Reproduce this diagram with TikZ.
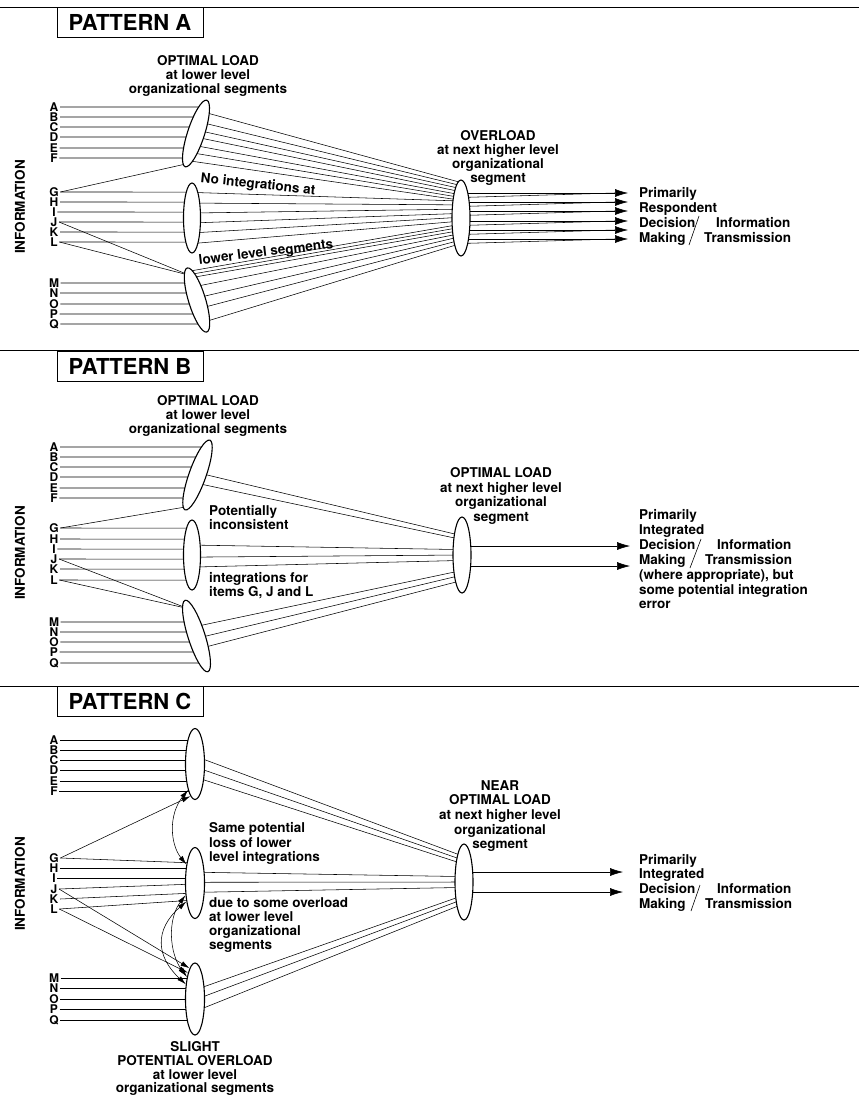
\documentclass[tikz,border=0pt]{standalone}
\usepackage{fontspec}
\setmainfont{TeX Gyre Heros}
\usetikzlibrary{arrows.meta,backgrounds,calc,shapes.geometric}
\begin{document}
\begin{tikzpicture}[x=1pt,y=-1pt,
  lens/.style={draw, ellipse, fill=white, line width=1.1pt, inner sep=0pt, minimum width=17pt, minimum height=70pt},
  bigl/.style={lens, minimum width=18pt, minimum height=76pt},
  letter/.style={font=\fontsize{12}{12}\selectfont\bfseries, inner sep=0pt, text height=8.6pt, text depth=0pt, anchor=center},
  txt/.style={font=\fontsize{13.5}{13.5}\selectfont\bfseries, inner sep=0pt, anchor=base},
  txtl/.style={txt, anchor=base west},
  ttl/.style={draw, line width=0.9pt, font=\fontsize{22}{22}\selectfont\bfseries, minimum width=146pt, minimum height=30pt, inner sep=0pt},
  wire/.style={line width=0.55pt},
  arr/.style={wire, -{Latex[length=13pt,width=8pt]}},
  sarr/.style={wire, -{Latex[length=9pt,width=5pt]}},
  dbl/.style={wire, {Latex[length=9pt,width=5pt]}-{Latex[length=9pt,width=5pt]}},
  slash/.style={line width=0.6pt},
  sep/.style={line width=0.8pt},
]
\useasboundingbox (0,0) rectangle (859,1100);

% ================= PATTERN A =================
\draw[sep] (0,7) coordinate (sA1) -- (859,7) coordinate (sA2);
\node[ttl] (tA) at (130,22) {PATTERN A};
\node[txt, rotate=90, anchor=center] (infA) at (20,207) {INFORMATION};
\foreach \l/\y in {A/107,B/117,C/127,D/137,E/148,F/158,G/192,H/202,I/212,J/222,K/232,L/242,M/283,N/293,O/304,P/314,Q/324}
  \node[letter] (A\l) at (54,\y) {\l};
\node[lens, rotate=-18] (A1) at (196,133.5) {};
\node[lens] (A2) at (192,218) {};
\node[lens, rotate=17, minimum height=67pt] (A3) at (197,300) {};
\node[bigl] (AX) at (461,218) {};
\node[txt] (Aol1) at (208,65.5) {OPTIMAL LOAD};
\node[txt] (Aol2) at (208,79.5) {at lower level};
\node[txt] (Aol3) at (208,93.5) {organizational segments};
\node[txt] (Aov1) at (498,140.5) {OVERLOAD};
\node[txt] (Aov2) at (498,154.5) {at next higher level};
\node[txt] (Aov3) at (498,168.5) {organizational};
\node[txt] (Aov4) at (498,182.5) {segment};
\node[txt, rotate=-6, anchor=center] (Ani) at (258,185) {No integrations at};
\node[txt, rotate=7, anchor=center] (Alo) at (266,253) {lower level segments};
\node[txtl] (Ar1) at (639,197.5) {Primarily};
\node[txtl] (Ar2) at (639,212.5) {Respondent};
\node[txtl] (Ar3) at (639,227.5) {Decision};
\node[txtl] (Ar4) at (639,242.5) {Making};
\node[txtl] (Ar5) at (716,227.5) {Information};
\node[txtl] (Ar6) at (704,242.5) {Transmission};
\draw[slash] (689,245) coordinate (Asl1) -- (699,216) coordinate (Asl2);
\foreach \i/\y in {1/193,2/202,3/211,4/221,5/230,6/239}
  \coordinate (At\i) at (628,\y);
\begin{scope}[on background layer]
  \foreach \l in {A,B,C,D,E,F}
    \draw[wire] ($(A\l.east)+(1.5,0)$) -- (intersection cs: first line={(A\l.east)--(A\l.east -| A1.center)}, second line={(A1.north)--(A1.south)});
  \foreach \l in {G,H,I,J,K,L}
    \draw[wire] ($(A\l.east)+(1.5,0)$) -- (intersection cs: first line={(A\l.east)--(A\l.east -| A2.center)}, second line={(A2.north)--(A2.south)});
  \foreach \l in {M,N,O,P,Q}
    \draw[wire] ($(A\l.east)+(1.5,0)$) -- (intersection cs: first line={(A\l.east)--(A\l.east -| A3.center)}, second line={(A3.north)--(A3.south)});
  \draw[wire] ($(AG.east)+(1.5,0)$) -- ($(A1.south)!0.05!(A1.north)$);
  \draw[wire] ($(AJ.east)+(1.5,0)$) -- ($(A3.north)!0.12!(A3.south)$);
  \draw[wire] ($(AL.east)+(1.5,0)$) -- ($(A3.north)!0.12!(A3.south)$);
  \foreach \f/\g in {0.18/0.04,0.33/0.08,0.45/0.12,0.55/0.16,0.67/0.2,0.78/0.235,0.9/0.27}
    \draw[wire] ($(A1.north)!\f!(A1.south)$) -- ($(AX.north)!\g!(AX.south)$);
  \foreach \f/\g in {0.14/0.28,0.29/0.33,0.43/0.385,0.57/0.44,0.71/0.49,0.86/0.54}
    \draw[wire] ($(A2.north)!\f!(A2.south)$) -- ($(AX.north)!\g!(AX.south)$);
  \foreach \f/\g in {0.06/0.58,0.11/0.62,0.16/0.66,0.30/0.70,0.47/0.74,0.63/0.785,0.84/0.83}
    \draw[wire] ($(A3.north)!\f!(A3.south)$) -- ($(AX.north)!\g!(AX.south)$);
  \foreach \i in {1,...,6} {
    \draw[arr] (AX.center |- At\i) -- (At\i);
    \draw[wire] ($(AX.center |- At\i)+(0,4.5)$) -- ($(At\i)+(-13,0)$);
  }
\end{scope}

% ================= PATTERN B =================
\draw[sep] (0,350) coordinate (sB1) -- (859,350) coordinate (sB2);
\node[ttl] (tB) at (130,366) {PATTERN B};
\node[txt, rotate=90, anchor=center] (infB) at (20,553) {INFORMATION};
\foreach \l/\y in {A/447,B/457,C/467,D/477,E/488,F/498,G/528,H/539,I/549,J/559,K/569,L/580,M/622,N/632,O/642,P/652,Q/663}
  \node[letter] (B\l) at (54,\y) {\l};
\node[lens, rotate=-19.5, minimum height=74pt] (B1) at (197.5,475) {};
\node[lens] (B2) at (192,555) {};
\node[lens, rotate=17.7, minimum height=75pt] (B3) at (196.5,636) {};
\node[bigl] (BX) at (462,555) {};
\node[txt] (Bol1) at (208,405.5) {OPTIMAL LOAD};
\node[txt] (Bol2) at (208,419.5) {at lower level};
\node[txt] (Bol3) at (208,433.5) {organizational segments};
\node[txt] (Bov1) at (501,477.5) {OPTIMAL LOAD};
\node[txt] (Bov2) at (501,492.5) {at next higher level};
\node[txt] (Bov3) at (501,506.5) {organizational};
\node[txt] (Bov4) at (501,521.5) {segment};
\node[txtl] (Bpi1) at (209,515.5) {Potentially};
\node[txtl] (Bpi2) at (209,529.5) {inconsistent};
\node[txtl] (Bpi3) at (209,582.5) {integrations for};
\node[txtl] (Bpi4) at (209,596.5) {items G, J and L};
\node[txtl] (Br1) at (639,519.5) {Primarily};
\node[txtl] (Br2) at (639,534.5) {Integrated};
\node[txtl] (Br3) at (639,549.5) {Decision};
\node[txtl] (Br4) at (639,564.5) {Making};
\node[txtl] (Br5) at (717,549.5) {Information};
\node[txtl] (Br6) at (705,564.5) {Transmission};
\draw[slash] (690,568) coordinate (Bsl1) -- (701,539) coordinate (Bsl2);
\node[txtl] (Br7) at (639,579.5) {(where appropriate), but};
\node[txtl] (Br8) at (639,594.5) {some potential integration};
\node[txtl] (Br9) at (639,608.5) {error};
\coordinate (Bt1) at (630,546);
\coordinate (Bt2) at (630,566);
\begin{scope}[on background layer]
  \foreach \l in {A,B,C,D,E,F}
    \draw[wire] ($(B\l.east)+(1.5,0)$) -- (intersection cs: first line={(B\l.east)--(B\l.east -| B1.center)}, second line={(B1.north)--(B1.south)});
  \foreach \l in {G,H,I,J,K,L}
    \draw[wire] ($(B\l.east)+(1.5,0)$) -- (intersection cs: first line={(B\l.east)--(B\l.east -| B2.center)}, second line={(B2.north)--(B2.south)});
  \foreach \l in {M,N,O,P,Q}
    \draw[wire] ($(B\l.east)+(1.5,0)$) -- (intersection cs: first line={(B\l.east)--(B\l.east -| B3.center)}, second line={(B3.north)--(B3.south)});
  \draw[wire] ($(BG.east)+(1.5,0)$) -- ($(B1.south)!0.05!(B1.north)$);
  \draw[wire] ($(BJ.east)+(1.5,0)$) -- ($(B3.north)!0.12!(B3.south)$);
  \draw[wire] ($(BL.east)+(1.5,0)$) -- ($(B3.north)!0.12!(B3.south)$);
  \foreach \f/\g in {0.47/0.25,0.61/0.30}
    \draw[wire] ($(B1.north)!\f!(B1.south)$) -- ($(BX.north)!\g!(BX.south)$);
  \foreach \f/\g in {0.36/0.43,0.53/0.5,0.67/0.57}
    \draw[wire] ($(B2.north)!\f!(B2.south)$) -- ($(BX.north)!\g!(BX.south)$);
  \foreach \f/\g in {0.375/0.70,0.53/0.76,0.67/0.83}
    \draw[wire] ($(B3.north)!\f!(B3.south)$) -- ($(BX.north)!\g!(BX.south)$);
  \draw[arr] (BX.center |- Bt1) -- (Bt1);
  \draw[arr] (BX.center |- Bt2) -- (Bt2);
\end{scope}

% ================= PATTERN C =================
\draw[sep] (0,686) coordinate (sC1) -- (859,686) coordinate (sC2);
\node[ttl] (tC) at (130,701) {PATTERN C};
\node[txt, rotate=90, anchor=center] (infC) at (20,884) {INFORMATION};
\foreach \l/\y in {A/740,B/750,C/760,D/770,E/781,F/791,G/858,H/868,I/878,J/889,K/899,L/909,M/978,N/988,O/999,P/1009,Q/1020}
  \node[letter] (C\l) at (54,\y) {\l};
\node[lens, minimum width=19pt, minimum height=71pt] (C1) at (195,764) {};
\node[lens, minimum width=19pt, minimum height=71pt] (C2) at (195,883) {};
\node[lens, minimum width=19pt, minimum height=72pt] (C3) at (195,999) {};
\node[bigl] (CX) at (464,882) {};
\node[txt] (Cov0) at (500,790.5) {NEAR};
\node[txt] (Cov1) at (500,804.5) {OPTIMAL LOAD};
\node[txt] (Cov2) at (500,819.5) {at next higher level};
\node[txt] (Cov3) at (500,834.5) {organizational};
\node[txt] (Cov4) at (500,848.5) {segment};
\node[txtl] (Csp1) at (209,832.5) {Same potential};
\node[txtl] (Csp2) at (209,847.5) {loss of lower};
\node[txtl] (Csp3) at (209,861.5) {level integrations};
\node[txtl] (Cdu1) at (209,907.5) {due to some overload};
\node[txtl] (Cdu2) at (209,921.5) {at lower level};
\node[txtl] (Cdu3) at (209,935.5) {organizational};
\node[txtl] (Cdu4) at (209,949.5) {segments};
\node[txt] (Csl1) at (195,1051.5) {SLIGHT};
\node[txt] (Csl2) at (195,1065.5) {POTENTIAL OVERLOAD};
\node[txt] (Csl3) at (195,1079.5) {at lower level};
\node[txt] (Csl4) at (195,1092.5) {organizational segments};
\node[txtl] (Cr1) at (639,864.5) {Primarily};
\node[txtl] (Cr2) at (639,878.5) {Integrated};
\node[txtl] (Cr3) at (639,893.5) {Decision};
\node[txtl] (Cr4) at (639,908.5) {Making};
\node[txtl] (Cr5) at (717,893.5) {Information};
\node[txtl] (Cr6) at (705,908.5) {Transmission};
\draw[slash] (691,911) coordinate (Csl1a) -- (700,885) coordinate (Csl2a);
\coordinate (Ct1) at (623,872);
\coordinate (Ct2) at (623,892);
\begin{scope}[on background layer]
  \foreach \l in {A,B,C,D,E,F}
    \draw[wire] ($(C\l.east)+(1.5,0)$) -- (C\l.east -| C1.center);
  \foreach \l in {H,I}
    \draw[wire] ($(C\l.east)+(1.5,0)$) -- (C\l.east -| C2.center);
  \foreach \l in {M,N,O,P,Q}
    \draw[wire] ($(C\l.east)+(1.5,0)$) -- (C\l.east -| C3.center);
  \draw[wire] ($(CG.east)+(1.5,0)$) -- ($(C2.center)+(0,-20)$);
  \draw[wire] ($(CJ.east)+(1.5,0)$) -- ($(C2.center)+(0,1)$);
  \draw[wire] ($(CK.east)+(1.5,0)$) -- ($(C2.center)+(0,10)$);
  \draw[wire] ($(CL.east)+(1.5,0)$) -- ($(C2.center)+(0,17)$);
  \foreach \f/\g in {0.39/0.17,0.54/0.22,0.68/0.27}
    \draw[wire] ($(C1.north)!\f!(C1.south)$) -- ($(CX.north)!\g!(CX.south)$);
  \foreach \f/\g in {0.35/0.43,0.49/0.5,0.63/0.57}
    \draw[wire] ($(C2.north)!\f!(C2.south)$) -- ($(CX.north)!\g!(CX.south)$);
  \foreach \f/\g in {0.375/0.67,0.51/0.72,0.67/0.78}
    \draw[wire] ($(C3.north)!\f!(C3.south)$) -- ($(CX.north)!\g!(CX.south)$);
  \draw[arr] (CX.center |- Ct1) -- (Ct1);
  \draw[arr] (CX.center |- Ct2) -- (Ct2);
\end{scope}
\draw[sarr] ($(CG.east)+(1.5,0)$) -- (C1.262);
\draw[sarr] ($(CJ.east)+(1.5,0)$) -- (C3.100);
\draw[sarr] ($(CL.east)+(1.5,0)$) -- (C3.105);
\draw[dbl] (C1.255) .. controls ($(C1.255)+(-20,25)$) and ($(C2.115)+(-16,-20)$) .. (C2.115);
\draw[dbl] (C2.245) .. controls ($(C2.245)+(-32,28)$) and ($(C3.122)+(-30,-28)$) .. (C3.122);
\draw[dbl] (C2.232) .. controls ($(C2.232)+(-18,24)$) and ($(C3.110)+(-18,-24)$) .. (C3.110);
\end{tikzpicture}
\end{document}
